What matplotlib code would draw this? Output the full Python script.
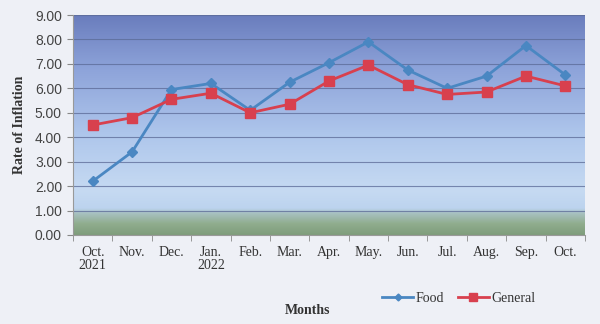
import matplotlib
matplotlib.use('Agg')
import matplotlib.pyplot as plt
import numpy as np
from matplotlib.colors import LinearSegmentedColormap

months = ['Oct.\n2021', 'Nov.', 'Dec.', 'Jan.\n2022', 'Feb.', 'Mar.', 'Apr.',
          'May.', 'Jun.', 'Jul.', 'Aug.', 'Sep.', 'Oct.']
food = [2.2, 3.4, 5.95, 6.2, 5.1, 6.25, 7.05, 7.9, 6.75, 6.0, 6.5, 7.75, 6.55]
general = [4.5, 4.8, 5.55, 5.8, 5.0, 5.35, 6.3, 6.95, 6.15, 5.75, 5.85, 6.5, 6.1]
yticks = np.arange(0, 9.01, 1.0)

fig = plt.figure(figsize=(6, 3.24), dpi=100, facecolor='#eef0f6')
ax = fig.add_axes([0.1217, 0.2747, 0.8533, 0.679])

x = np.arange(len(months))

# background gradient (bottom -> top)
bg = LinearSegmentedColormap.from_list('bg', [
    (0.0, '#7f9d7c'), (0.05, '#90ad8e'), (0.10, '#a9c2c4'), (0.12, '#bcd3ee'),
    (0.2, '#c6daf2'), (0.45, '#afc7ec'), (0.75, '#8ea4da'), (1.0, '#6a7dbd')])
grad = np.linspace(0, 1, 256).reshape(-1, 1)
ax.imshow(grad, aspect='auto', cmap=bg, origin='lower',
          extent=[-0.5, len(months) - 0.5, 0, 9], zorder=0)

for y in yticks[1:]:
    ax.axhline(y, color='#5b6a96', linewidth=0.8, alpha=0.75, zorder=1)

ax.plot(x, food, color='#4a87c2', marker='D', markersize=5, linewidth=2,
        label='Food', zorder=3)
ax.plot(x, general, color='#d8404e', marker='s', markersize=7.5, linewidth=2,
        label='General', zorder=3)

ax.set_xlim(-0.5, len(months) - 0.5)
ax.set_ylim(0, 9)
ax.set_yticks(yticks)
ax.set_yticklabels(['%.2f' % v for v in yticks], fontsize=10, color='#444444',
                   family='Liberation Sans')
ax.set_xticks(x)
ax.set_xticklabels(months, fontsize=10, family='Liberation Serif', color='#333333',
                   ha='center', linespacing=1.0)
ax.set_xticks(np.arange(-0.5, len(months), 1), minor=True)
ax.tick_params(axis='x', which='major', length=0, pad=8)
ax.tick_params(axis='x', which='minor', length=4, color='#888888')
ax.tick_params(axis='y', length=4, color='#888888', pad=4)

for s in ['top', 'right']:
    ax.spines[s].set_visible(False)
ax.spines['left'].set_color('#999999')
ax.spines['bottom'].set_color('#999999')

ax.set_ylabel('Rate of Inflation', fontsize=10, fontweight='bold',
              family='Liberation Serif', color='#333333', labelpad=6)
fig.text(0.512, 0.03, 'Months', fontsize=10, fontweight='bold',
         family='Liberation Serif', color='#333333', ha='center')

leg = fig.legend(loc='center', bbox_to_anchor=(0.765, 0.08), ncol=2, frameon=False,
                 prop={'family': 'Liberation Serif', 'size': 10},
                 handlelength=2.2, columnspacing=1.0, handletextpad=0.2,
                 markerscale=0.7)
for t in leg.get_texts():
    t.set_color('#333333')

fig.savefig('out.png', dpi=100, facecolor=fig.get_facecolor())
